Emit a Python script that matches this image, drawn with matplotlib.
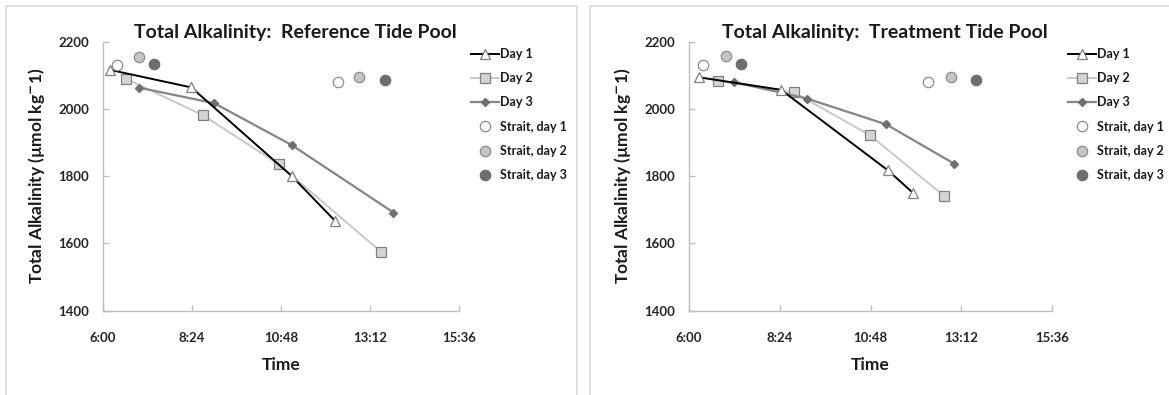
import matplotlib
matplotlib.use("Agg")
import matplotlib.pyplot as plt
from matplotlib.patches import Rectangle
from matplotlib.ticker import FuncFormatter, FixedLocator

plt.rcParams['font.family'] = ['Lato', 'DejaVu Sans']
plt.rcParams['font.weight'] = 'bold'

# ---- data: sampling times (h:mm) and total alkalinity (umol/kg) ----
ref_day1_t = ["6:12", "8:23", "11:05", "12:15"]
ref_day1 = [2116, 2064, 1801, 1668]
ref_day2_t = ["6:38", "8:41", "10:44", "13:29"]
ref_day2 = [2089, 1982, 1836, 1576]
ref_day3_t = ["6:59", "9:00", "11:05", "13:50"]
ref_day3 = [2063, 2017, 1893, 1692]
ref_strait1_t = ["6:23", "12:20"]
ref_strait1 = [2131, 2081]
ref_strait2_t = ["6:59", "12:55"]
ref_strait2 = [2155, 2095]
ref_strait3_t = ["7:23", "13:36"]
ref_strait3 = [2133, 2086]

trt_day1_t = ["6:16", "8:26", "11:16", "11:55"]
trt_day1 = [2094, 2057, 1817, 1751]
trt_day2_t = ["6:46", "8:47", "10:47", "12:45"]
trt_day2 = [2083, 2049, 1922, 1741]
trt_day3_t = ["7:11", "9:07", "11:13", "13:01"]
trt_day3 = [2080, 2031, 1954, 1837]
trt_strait1_t = ["6:22", "12:20"]
trt_strait1 = [2131, 2080]
trt_strait2_t = ["6:58", "12:56"]
trt_strait2 = [2156, 2094]
trt_strait3_t = ["7:22", "13:36"]
trt_strait3 = [2133, 2085]

x_ticks = ["6:00", "8:24", "10:48", "13:12", "15:36"]
y_ticks = [1400, 1600, 1800, 2000, 2200]


def hours(labels):
    out = []
    for s in labels:
        h, m = s.split(":")
        out.append(int(h) + int(m) / 60.0)
    return out


def hm(v, _pos=None):
    total = int(round(v * 60))
    return f"{total // 60}:{total % 60:02d}"


W, H = 1169, 395
fig = plt.figure(figsize=(W / 100, H / 100), dpi=100)
fig.patch.set_facecolor("white")

# panel frames
for x0, x1 in [(6, 577), (590, 1180)]:
    fig.patches.append(Rectangle((x0 / W, -0.05), (x1 - x0) / W, (H - 6) / H + 0.05,
                                 transform=fig.transFigure, fill=False,
                                 edgecolor="#d9d9d9", linewidth=1.2))

AX_COL = "#bfbfbf"
TXT = "#1a1a1a"


def draw_panel(rect, title, series, strait, legend_xy):
    ax = fig.add_axes(rect)
    d1, d2, d3 = series
    ax.plot(hours(d1[0]), d1[1], color="black", lw=1.4, marker="^", ms=7,
            mfc="white", mec="#7f7f7f", mew=0.9, label="Day 1", zorder=4)
    ax.plot(hours(d2[0]), d2[1], color="#c8c8c8", lw=1.4, marker="s", ms=6.5,
            mfc="#d4d4d4", mec="#808080", mew=0.9, label="Day 2", zorder=3)
    ax.plot(hours(d3[0]), d3[1], color="#858585", lw=1.6, marker="D", ms=4.5,
            mfc="#6f6f6f", mec="#6f6f6f", label="Day 3", zorder=3)
    s1, s2, s3 = strait
    ax.plot(hours(s1[0]), s1[1], ls="none", marker="o", ms=7.5, mfc="white",
            mec="#8c8c8c", mew=0.9, label="Strait, day 1", zorder=5)
    ax.plot(hours(s2[0]), s2[1], ls="none", marker="o", ms=7.5, mfc="#c4c4c4",
            mec="#8c8c8c", mew=0.9, label="Strait, day 2", zorder=5)
    ax.plot(hours(s3[0]), s3[1], ls="none", marker="o", ms=7.5, mfc="#6e6e6e",
            mec="#6e6e6e", mew=0.9, label="Strait, day 3", zorder=5)

    xt = hours(x_ticks)
    ax.set_xlim(xt[0], xt[-1])
    ax.set_ylim(y_ticks[0], y_ticks[-1])
    ax.xaxis.set_major_locator(FixedLocator(xt))
    ax.xaxis.set_major_formatter(FuncFormatter(hm))
    ax.set_yticks(y_ticks)
    for side in ["top", "right"]:
        ax.spines[side].set_visible(False)
    for side in ["left", "bottom"]:
        ax.spines[side].set_color(AX_COL)
        ax.spines[side].set_linewidth(1.0)
    ax.tick_params(axis="both", direction="in", length=4, width=1.0,
                   color=AX_COL, labelsize=9.5)
    ax.tick_params(axis="x", pad=15)
    ax.tick_params(axis="y", pad=10)
    for lab in ax.get_xticklabels() + ax.get_yticklabels():
        lab.set_fontweight("bold")
        lab.set_color("#262626")
    ax.set_title(title, fontsize=14, fontweight="bold", pad=3, color=TXT, x=0.54)
    ax.set_xlabel("Time", fontsize=12.5, fontweight="bold", labelpad=10, color=TXT)
    ax.set_ylabel("Total Alkalinity (µmol kg$^{-}$1)", fontsize=12.5,
                  fontweight="bold", labelpad=8, color=TXT)
    leg = ax.legend(loc="upper left", bbox_to_anchor=legend_xy,
                    bbox_transform=fig.transFigure, frameon=False,
                    fontsize=9, handlelength=2.2, handletextpad=0.15,
                    labelspacing=0.98, borderpad=0, borderaxespad=0)
    for t in leg.get_texts():
        t.set_fontweight("bold")
        t.set_color(TXT)
    return ax


ybot = (H - 310.7) / H
yh = (310.7 - 41.7) / H
draw_panel([103 / W, ybot, (459 - 103) / W, yh],
           "Total Alkalinity:  Reference Tide Pool",
           [(ref_day1_t, ref_day1), (ref_day2_t, ref_day2), (ref_day3_t, ref_day3)],
           [(ref_strait1_t, ref_strait1), (ref_strait2_t, ref_strait2),
            (ref_strait3_t, ref_strait3)],
           (471 / W, 1 - 48 / H))
draw_panel([689 / W, ybot, (1052 - 689) / W, yh],
           "Total Alkalinity:  Treatment Tide Pool",
           [(trt_day1_t, trt_day1), (trt_day2_t, trt_day2), (trt_day3_t, trt_day3)],
           [(trt_strait1_t, trt_strait1), (trt_strait2_t, trt_strait2),
            (trt_strait3_t, trt_strait3)],
           (1068 / W, 1 - 48 / H))

fig.savefig("out.png", dpi=100, facecolor="white")
